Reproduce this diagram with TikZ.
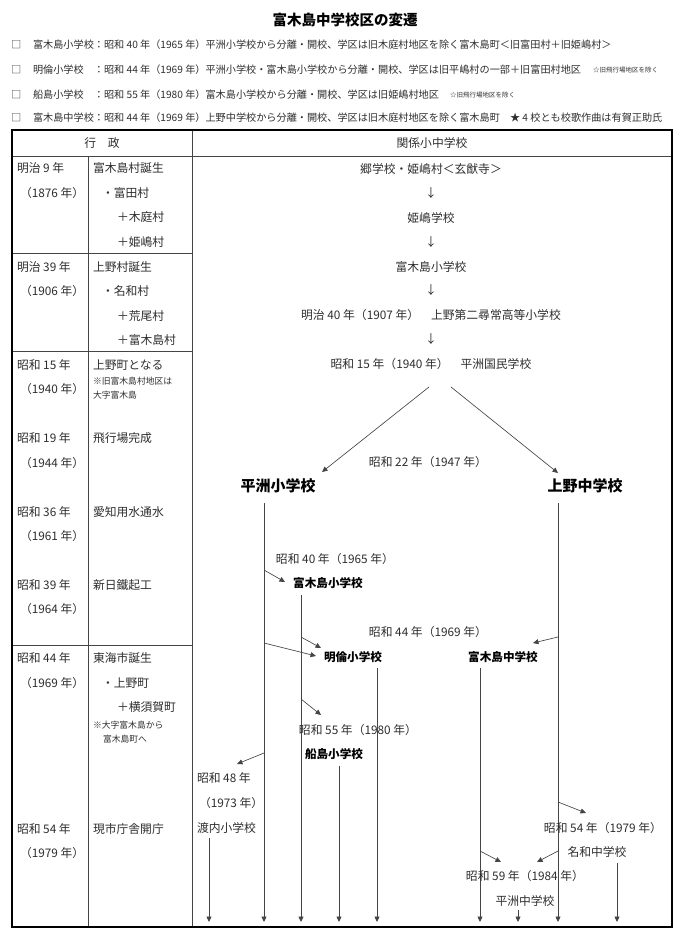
\documentclass[tikz,border=0pt]{standalone}
\usepackage{fontspec}
\setmainfont{Noto Sans CJK JP}
\usetikzlibrary{arrows.meta}
\definecolor{txt}{HTML}{2E2E2E}
\definecolor{ln}{HTML}{454545}
\tikzset{
  base/.style={inner sep=0pt, outer sep=0pt, text=txt, font=\fontsize{11.8}{13}\selectfont},
  lt/.style={base, anchor=west},
  ct/.style={base, anchor=center},
  hd/.style={base, anchor=west, font=\fontsize{10.15}{12}\selectfont},
  sm/.style={base, anchor=west, font=\fontsize{6.5}{8}\selectfont},
  nt/.style={base, anchor=west, font=\fontsize{8.8}{10}\selectfont},
  big/.style={base, text=black, font=\fontsize{15}{17}\selectfont\bfseries},
  mid/.style={base, text=black, font=\fontsize{11.6}{13}\selectfont\bfseries},
  ttl/.style={base, text=black, font=\fontsize{14.5}{16}\selectfont\bfseries},
  frame/.style={draw=black, line width=1.3pt},
  rule/.style={draw=ln, line width=0.7pt},
  flow/.style={draw=ln, line width=0.65pt, -{Triangle[length=5.5pt,width=5pt]}},
}
\begin{document}
\begin{tikzpicture}[x=1pt,y=-1pt]
\fill[white] (0,0) rectangle (690,943);
\useasboundingbox (0,0) rectangle (690,943);

% title and header notes
\node[ttl] (title) at (345,20) {富木島中学校区の変遷};
\node[hd] (bx1) at (11,45) {□};
\node[hd] (h1) at (33,45) {富木島小学校：昭和 40 年（1965 年）平洲小学校から分離・開校、学区は旧木庭村地区を除く富木島町＜旧富田村＋旧姫嶋村＞};
\node[hd] (bx2) at (11,70) {□};
\node[hd] (h2) at (33,70) {明倫小学校　：昭和 44 年（1969 年）平洲小学校・富木島小学校から分離・開校、学区は旧平嶋村の一部＋旧富田村地区};
\node[sm] (h2n) at (593,70) {☆旧飛行場地区を除く};
\node[hd] (bx3) at (11,95) {□};
\node[hd] (h3) at (33,95) {船島小学校　：昭和 55 年（1980 年）富木島小学校から分離・開校、学区は旧姫嶋村地区};
\node[sm] (h3n) at (450,95) {☆旧飛行場地区を除く};
\node[hd] (bx4) at (11,118) {□};
\node[hd] (h4) at (33,118) {富木島中学校：昭和 44 年（1969 年）上野中学校から分離・開校、学区は旧木庭村地区を除く富木島町　★ 4 校とも校歌作曲は有賀正助氏};

% table
\draw[rule] (12,156) -- (672,156);
\draw[rule] (88,156) -- (88,927);
\draw[rule] (192,130) -- (192,927);
\draw[rule] (12,253) -- (192,253);
\draw[rule] (12,351) -- (192,351);
\draw[rule] (12,645) -- (192,645);
\draw[frame] (12,130) rectangle (672,927);

\node[ct] (gyosei) at (102,143) {行　政};
\node[ct] (kankei) at (432,143) {関係小中学校};

% left column
\node[lt] (e1a) at (17,168) {明治 9 年};
\node[lt] (e1b) at (20,193) {（1876 年）};
\node[lt] (v1a) at (93,168) {富木島村誕生};
\node[lt] (v1b) at (102,193) {・富田村};
\node[lt] (v1c) at (117,217) {＋木庭村};
\node[lt] (v1d) at (117,242) {＋姫嶋村};

\node[lt] (e2a) at (17,267) {明治 39 年};
\node[lt] (e2b) at (20,291) {（1906 年）};
\node[lt] (v2a) at (93,267) {上野村誕生};
\node[lt] (v2b) at (102,291) {・名和村};
\node[lt] (v2c) at (117,316) {＋荒尾村};
\node[lt] (v2d) at (117,340) {＋富木島村};

\node[lt] (e3a) at (17,365) {昭和 15 年};
\node[lt] (e3b) at (20,389) {（1940 年）};
\node[lt] (v3a) at (93,365) {上野町となる};
\node[nt] (v3b) at (93,381) {※旧富木島村地区は};
\node[nt] (v3c) at (93,395) {大字富木島};

\node[lt] (e4a) at (17,438) {昭和 19 年};
\node[lt] (e4b) at (20,463) {（1944 年）};
\node[lt] (v4a) at (93,438) {飛行場完成};

\node[lt] (e5a) at (17,512) {昭和 36 年};
\node[lt] (e5b) at (20,536) {（1961 年）};
\node[lt] (v5a) at (93,512) {愛知用水通水};

\node[lt] (e6a) at (17,585) {昭和 39 年};
\node[lt] (e6b) at (20,609) {（1964 年）};
\node[lt] (v6a) at (93,585) {新日鐵起工};

\node[lt] (e7a) at (17,658) {昭和 44 年};
\node[lt] (e7b) at (20,683) {（1969 年）};
\node[lt] (v7a) at (93,658) {東海市誕生};
\node[lt] (v7b) at (102,683) {・上野町};
\node[lt] (v7c) at (117,707) {＋横須賀町};
\node[nt] (v7d) at (93,725) {※大字富木島から};
\node[nt] (v7e) at (103,739) {富木島町へ};

\node[lt] (e8a) at (17,829) {昭和 54 年};
\node[lt] (e8b) at (20,853) {（1979 年）};
\node[lt] (v8a) at (93,829) {現市庁舎開庁};

% right column: early history
\node[ct] (r1) at (431,169) {郷学校・姫嶋村＜玄猷寺＞};
\node[ct] (d1) at (431,193) {↓};
\node[ct] (r2) at (431,218) {姫嶋学校};
\node[ct] (d2) at (431,242) {↓};
\node[ct] (r3) at (431,267) {富木島小学校};
\node[ct] (d3) at (431,290) {↓};
\node[ct] (r4) at (431,315) {明治 40 年（1907 年）　上野第二尋常高等小学校};
\node[ct] (d4) at (431,339) {↓};
\node[ct] (r5) at (431,364) {昭和 15 年（1940 年）　平洲国民学校};

% split 1947
\coordinate (s1) at (429,387);
\coordinate (s2) at (451,387);
\coordinate (s1e) at (322,472);
\coordinate (s2e) at (558,473);
\draw[flow] (s1) -- (s1e);
\draw[flow] (s2) -- (s2e);
\node[ct] (y47) at (428,462) {昭和 22 年（1947 年）};
\node[big] (hirasu) at (278,486) {平洲小学校};
\node[big] (ueno) at (585,486) {上野中学校};

% main vertical lines
\coordinate (hsT) at (264,503);  \coordinate (hsB) at (264,922);
\coordinate (uT) at (558,503);   \coordinate (uB) at (558,922);
\coordinate (tsT) at (301,595);  \coordinate (tsB) at (301,922);
\coordinate (mT) at (377,668);   \coordinate (mB) at (377,922);
\coordinate (tcT) at (480,668);  \coordinate (tcB) at (480,922);
\coordinate (fT) at (339,766);   \coordinate (fB) at (339,922);
\coordinate (dT) at (209,838);   \coordinate (dB) at (209,922);
\coordinate (hcT) at (518,910);  \coordinate (hcB) at (518,922);
\coordinate (nT) at (617,863);   \coordinate (nB) at (617,922);
\draw[flow] (hsT) -- (hsB);
\draw[flow] (uT) -- (uB);
\draw[flow] (tsT) -- (tsB);
\draw[flow] (mT) -- (mB);
\draw[flow] (tcT) -- (tcB);
\draw[flow] (fT) -- (fB);
\draw[flow] (dT) -- (dB);
\draw[flow] (hcT) -- (hcB);
\draw[flow] (nT) -- (nB);

% 1965
\node[ct] (y65) at (335,559) {昭和 40 年（1965 年）};
\coordinate (b1s) at (264,570); \coordinate (b1e) at (285,582);
\draw[flow] (b1s) -- (b1e);
\node[mid] (tomisho) at (328,583) {富木島小学校};

% 1969
\node[ct] (y69) at (428,632) {昭和 44 年（1969 年）};
\coordinate (b2s) at (301,637); \coordinate (b2e) at (321,648);
\coordinate (b3s) at (264,643); \coordinate (b3e) at (316,656);
\coordinate (b4s) at (558,637); \coordinate (b4e) at (533,643);
\draw[flow] (b2s) -- (b2e);
\draw[flow] (b3s) -- (b3e);
\draw[flow] (b4s) -- (b4e);
\node[mid] (meirin) at (353,657) {明倫小学校};
\node[mid] (tomichu) at (503,657) {富木島中学校};

% 1980
\coordinate (b5s) at (301,699); \coordinate (b5e) at (321,715);
\draw[flow] (b5s) -- (b5e);
\node[ct] (y80) at (358,730) {昭和 55 年（1980 年）};
\node[mid] (funa) at (334,754) {船島小学校};

% 1973
\coordinate (b6s) at (264,753); \coordinate (b6e) at (237,764);
\draw[flow] (b6s) -- (b6e);
\node[lt] (y73a) at (197,778) {昭和 48 年};
\node[lt] (y73b) at (199,803) {（1973 年）};
\node[lt] (dounai) at (197,828) {渡内小学校};

% 1979
\coordinate (b7s) at (558,802); \coordinate (b7e) at (586,813);
\draw[flow] (b7s) -- (b7e);
\node[ct] (y79) at (603,828) {昭和 54 年（1979 年）};
\node[ct] (nawa) at (597,852) {名和中学校};

% 1984
\coordinate (b8s) at (480,851); \coordinate (b8e) at (501,862);
\coordinate (b9s) at (558,851); \coordinate (b9e) at (537,862);
\draw[flow] (b8s) -- (b8e);
\draw[flow] (b9s) -- (b9e);
\node[ct] (y84) at (525,876) {昭和 59 年（1984 年）};
\node[ct] (hirachu) at (525,901) {平洲中学校};
\end{tikzpicture}
\end{document}
